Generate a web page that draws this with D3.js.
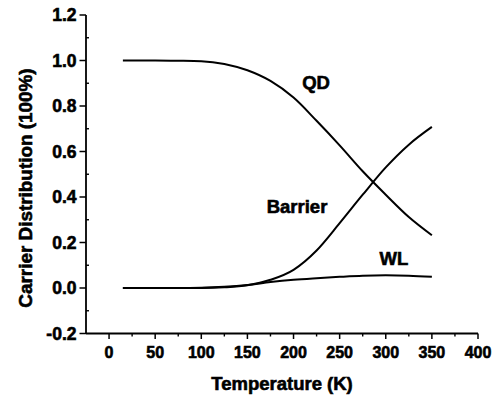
<!DOCTYPE html>
<html>
<head>
<meta charset="utf-8">
<script src="https://cdn.jsdelivr.net/npm/d3@7"></script>
<style>
  body { margin: 0; background: #fff; }
  text { font-family: "Liberation Sans", Arial, sans-serif; font-weight: bold; fill: #000; stroke: #000; stroke-width: 0.6px; }
</style>
</head>
<body>
<svg id="chart" width="500" height="399"></svg>
<script>
// temperatures (K) sampled along the curves
const temps = [15, 50, 75, 100, 125, 150, 175, 200, 225, 250, 275, 300, 325, 350];
const qd      = [1.0, 1.0, 0.999, 0.997, 0.985, 0.957, 0.91, 0.837, 0.735, 0.627, 0.513, 0.41, 0.312, 0.232];
const barrier = [0.0, 0.0, 0.0, 0.0, 0.003, 0.012, 0.036, 0.08, 0.165, 0.285, 0.41, 0.53, 0.63, 0.708];
const wl      = [0.0, 0.0, 0.0, 0.001, 0.005, 0.013, 0.026, 0.036, 0.043, 0.049, 0.054, 0.056, 0.054, 0.049];

const xTicks = [0, 50, 100, 150, 200, 250, 300, 350, 400];
const yTicks = [-0.2, 0.0, 0.2, 0.4, 0.6, 0.8, 1.0, 1.2];

const curves = [
  { name: "QD", values: qd, label: [316, 89] },
  { name: "Barrier", values: barrier, label: [297, 213] },
  { name: "WL", values: wl, label: [394, 265] }
];

const svg = d3.select("#chart");

const x = d3.scaleLinear().domain([-25, 400]).range([86, 478]);
const y = d3.scaleLinear().domain([-0.2, 1.2]).range([333.5, 15]);

// x axis: major ticks + minor ticks, both pointing down
const xAxis = svg.append("g").attr("transform", `translate(0,${y(-0.2)})`);
xAxis.append("line")
  .attr("x1", x(-25)).attr("x2", x(400))
  .attr("stroke", "#000").attr("stroke-width", 1.8);
xAxis.selectAll(".minor")
  .data(d3.range(25, 400, 50))
  .join("line")
  .attr("x1", d => x(d)).attr("x2", d => x(d))
  .attr("y1", 0).attr("y2", 3)
  .attr("stroke", "#000").attr("stroke-width", 1.4);
xAxis.selectAll(".major")
  .data(xTicks)
  .join("line")
  .attr("x1", d => x(d)).attr("x2", d => x(d))
  .attr("y1", 0).attr("y2", 5.5)
  .attr("stroke", "#000").attr("stroke-width", 1.5);
xAxis.selectAll("text")
  .data(xTicks)
  .join("text")
  .attr("x", d => x(d))
  .attr("y", 24.5)
  .attr("text-anchor", "middle")
  .style("font-size", "16px")
  .text(d => d);

// y axis: major ticks outward, minor ticks inward
const yAxis = svg.append("g").attr("transform", `translate(${x(-25)},0)`);
yAxis.append("line")
  .attr("y1", y(-0.2)).attr("y2", y(1.2))
  .attr("stroke", "#000").attr("stroke-width", 1.8);
yAxis.selectAll(".minor")
  .data(d3.range(-0.1, 1.2, 0.2))
  .join("line")
  .attr("y1", d => y(d)).attr("y2", d => y(d))
  .attr("x1", 0).attr("x2", 3)
  .attr("stroke", "#000").attr("stroke-width", 1.4);
yAxis.selectAll(".major")
  .data(yTicks)
  .join("line")
  .attr("y1", d => y(d)).attr("y2", d => y(d))
  .attr("x1", -6.5).attr("x2", 0)
  .attr("stroke", "#000").attr("stroke-width", 1.5);
yAxis.selectAll("text")
  .data(yTicks)
  .join("text")
  .attr("x", -9.5)
  .attr("y", d => y(d))
  .attr("dy", "0.35em")
  .attr("text-anchor", "end")
  .style("font-size", "17.5px")
  .text(d => d3.format(".1f")(d).replace("−", "-"));

// axis titles
svg.append("text")
  .attr("x", 282).attr("y", 390)
  .attr("text-anchor", "middle")
  .style("font-size", "18.5px")
  .text("Temperature (K)");

svg.append("text")
  .attr("transform", "translate(32,188) rotate(-90)")
  .attr("text-anchor", "middle")
  .style("font-size", "18.9px")
  .text("Carrier Distribution (100%)");

// curves
const line = d3.line()
  .x((d, i) => x(temps[i]))
  .y(d => y(d))
  .curve(d3.curveMonotoneX);

svg.selectAll(".curve")
  .data(curves)
  .join("path")
  .attr("class", "curve")
  .attr("d", d => line(d.values))
  .attr("fill", "none")
  .attr("stroke", "#000")
  .attr("stroke-width", 2);

svg.selectAll(".clabel")
  .data(curves)
  .join("text")
  .attr("class", "clabel")
  .attr("x", d => d.label[0])
  .attr("y", d => d.label[1])
  .attr("text-anchor", "middle")
  .style("font-size", "18.5px")
  .text(d => d.name);
</script>
</body>
</html>
